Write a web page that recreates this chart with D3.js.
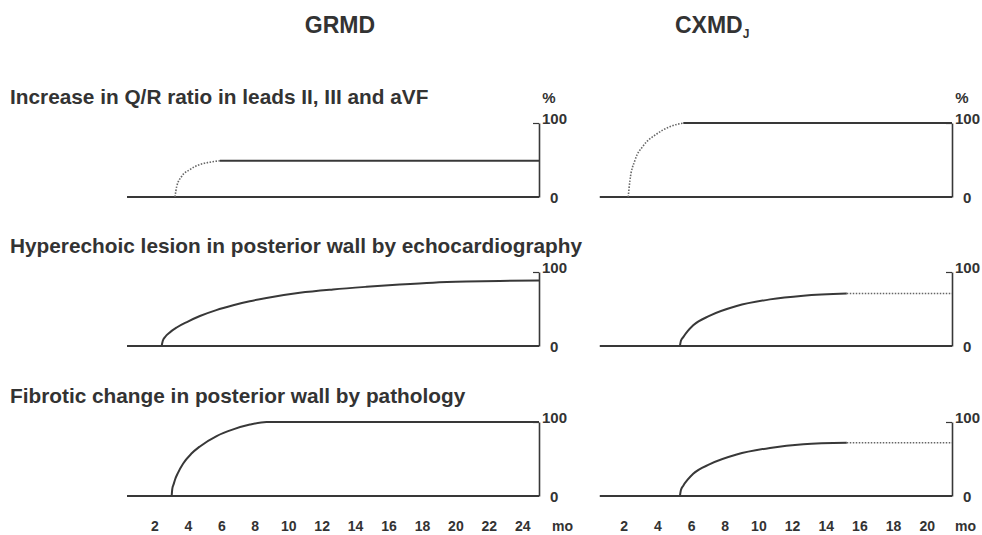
<!DOCTYPE html>
<html>
<head>
<meta charset="utf-8">
<script src="https://cdn.jsdelivr.net/npm/d3@7"></script>
<style>
body { margin: 0; background: #fff; }
text { font-family: "Liberation Sans", Arial, sans-serif; font-weight: bold; fill: #333; }
</style>
</head>
<body>
<div id="chart-area"></div>
<script>
// tick labels (months)
var grmdTicks = [2, 4, 6, 8, 10, 12, 14, 16, 18, 20, 22, 24];
var cxmdTicks = [2, 4, 6, 8, 10, 12, 14, 16, 18, 20];
var grmdRange = [0, 25], cxmdRange = [0, 21.5];
var grmdBaseStart = 0.36, cxmdBaseStart = 0.58;

var rowTitles = [
    "Increase in Q/R ratio in leads II, III and aVF",
    "Hyperechoic lesion in posterior wall by echocardiography",
    "Fibrotic change in posterior wall by pathology"
];

// row 1 - Q/R ratio
var qrGrmdDotMo = [3.23, 3.33, 3.63, 4.12, 4.72, 5.32, 5.91];
var qrGrmdDotPct = [0, 14, 28, 37, 44, 47, 49];
var qrGrmdSolidMo = [5.91, 25];
var qrGrmdSolidPct = [49, 49];
var qrCxDotMo = [2.27, 2.37, 2.66, 3.16, 3.95, 4.74, 5.54];
var qrCxDotPct = [0, 22, 49, 69, 85, 95, 100];
var qrCxSolidMo = [5.54, 21.5];
var qrCxSolidPct = [100, 100];

// row 2 - echocardiography
var echoGrmdMo = [2.43, 2.5, 2.65, 2.9, 3.33, 4, 4.72, 5.7, 6.71, 7.7, 8.7, 10.69, 12.68, 14.68, 16.67, 18.66, 20.65, 22.64, 25];
var echoGrmdPct = [0, 7, 12.5, 18, 25, 33, 40.5, 48.5, 55, 60.5, 65, 72, 76.5, 80, 83, 85.5, 87, 88, 88.5];
var echoCxSolidMo = [5.34, 5.4, 5.54, 5.8, 6.13, 7.12, 8.71, 10.69, 12.67, 15.25];
var echoCxSolidPct = [0, 7, 12, 20, 28, 41, 54, 63, 68, 71];
var echoCxDotMo = [15.25, 21.5];
var echoCxDotPct = [71, 71];

// row 3 - pathology
var fibGrmdMo = [3.03, 3.07, 3.15, 3.23, 3.4, 3.72, 4.2, 4.72, 5.72, 6.71, 7.71, 8.7, 25];
var fibGrmdPct = [0, 10, 16, 22, 31, 44, 57, 67, 81, 90, 96.5, 100, 100];
var fibCxSolidMo = [5.34, 5.4, 5.54, 5.8, 6.13, 7.12, 8.71, 10.69, 12.67, 15.25];
var fibCxSolidPct = [0, 8, 14, 22, 30, 43, 56, 65, 70, 72];
var fibCxDotMo = [15.25, 21.5];
var fibCxDotPct = [72, 72];

function seg(mo, pct, dotted) {
    return { values: mo.map(function(m, i) { return { mo: m, pct: pct[i] }; }), dotted: dotted };
}

var rows = [
    { grmd: [seg(qrGrmdDotMo, qrGrmdDotPct, true), seg(qrGrmdSolidMo, qrGrmdSolidPct, false)],
      cxmd: [seg(qrCxDotMo, qrCxDotPct, true), seg(qrCxSolidMo, qrCxSolidPct, false)] },
    { grmd: [seg(echoGrmdMo, echoGrmdPct, false)],
      cxmd: [seg(echoCxSolidMo, echoCxSolidPct, false), seg(echoCxDotMo, echoCxDotPct, true)] },
    { grmd: [seg(fibGrmdMo, fibGrmdPct, false)],
      cxmd: [seg(fibCxSolidMo, fibCxSolidPct, false), seg(fibCxDotMo, fibCxDotPct, true)] }
];

var width = 982, height = 535;
var lineColor = "#383838";

var svg = d3.select("#chart-area").append("svg")
    .attr("width", width)
    .attr("height", height);

var xGrmd = d3.scaleLinear().domain(grmdRange).range([121, 539]);
var xCxmd = d3.scaleLinear().domain(cxmdRange).range([590, 952]);

var rowBase = [197, 346, 496];
var rowHeight = 74;

// headers
svg.append("text").attr("x", 340).attr("y", 33)
    .attr("text-anchor", "middle").attr("font-size", 23).text("GRMD");
var cx = svg.append("text").attr("x", 675).attr("y", 33).attr("font-size", 23);
cx.append("tspan").text("CXMD");
cx.append("tspan").attr("font-size", 12).attr("dy", 5).text("J");

var line = d3.line()
    .x(function(d) { return d.x; })
    .y(function(d) { return d.y; })
    .curve(d3.curveMonotoneX);

function drawPanel(g, x, y, segs, baseStart, showPct) {
    var endMo = x.domain()[1];

    g.append("line")
        .attr("x1", x(baseStart)).attr("x2", x(endMo))
        .attr("y1", y(0)).attr("y2", y(0))
        .attr("stroke", lineColor).attr("stroke-width", 1.8);

    var ax = g.append("g")
        .attr("transform", "translate(" + x(endMo) + ",0)")
        .call(d3.axisLeft(y).tickValues([100]).tickSize(6).tickSizeOuter(0).tickFormat(""));
    ax.select(".domain").attr("stroke", lineColor).attr("stroke-width", 1.6);
    ax.selectAll(".tick line").attr("stroke", lineColor).attr("stroke-width", 1.2);

    g.append("text").attr("x", x(endMo) + 3).attr("y", y(100) + 1)
        .attr("font-size", 15).text("100");
    g.append("text").attr("x", x(endMo) + 11).attr("y", y(0) + 6)
        .attr("font-size", 15).text("0");
    if (showPct) {
        g.append("text").attr("x", x(endMo) + 10).attr("y", y(100) - 20)
            .attr("text-anchor", "middle").attr("font-size", 15).text("%");
    }

    segs.forEach(function(s) {
        var pts = s.values.map(function(d) { return { x: x(d.mo), y: y(d.pct) }; });
        g.append("path")
            .attr("d", line(pts))
            .attr("fill", "none")
            .attr("stroke", s.dotted ? "#666" : lineColor)
            .attr("stroke-width", s.dotted ? 1.6 : 2)
            .attr("stroke-dasharray", s.dotted ? "1.5,1.5" : null);
    });
}

rows.forEach(function(r, i) {
    var y = d3.scaleLinear().domain([0, 100]).range([rowBase[i], rowBase[i] - rowHeight]);
    svg.append("text").attr("x", 10).attr("y", rowBase[i] - 93)
        .attr("font-size", 20.8).text(rowTitles[i]);
    var g = svg.append("g");
    drawPanel(g, xGrmd, y, r.grmd, grmdBaseStart, i == 0);
    drawPanel(g, xCxmd, y, r.cxmd, cxmdBaseStart, i == 0);
});

// month labels along the bottom, no tick marks
function monthAxis(x, ticks, moOffset) {
    var a = svg.append("g")
        .attr("transform", "translate(0," + 521 + ")")
        .call(d3.axisBottom(x).tickValues(ticks).tickSize(0).tickPadding(0));
    a.select(".domain").remove();
    a.selectAll("text").attr("font-size", 14).attr("fill", "#333")
        .style("font-family", "Liberation Sans, Arial, sans-serif").style("font-weight", "bold");
    svg.append("text").attr("x", x(x.domain()[1]) + moOffset).attr("y", 531)
        .attr("font-size", 14).text("mo");
}
monthAxis(xGrmd, grmdTicks, 13);
monthAxis(xCxmd, cxmdTicks, 3);
</script>
</body>
</html>
